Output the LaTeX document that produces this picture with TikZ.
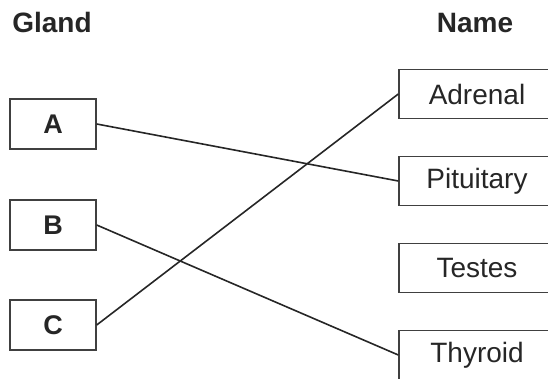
\documentclass[tikz,border=0pt]{standalone}
\usepackage{fontspec}
\setmainfont{Liberation Sans}
\begin{document}
\begin{tikzpicture}[x=1pt,y=-1pt,
  box/.style={draw=black!75,line width=1.4pt,inner sep=0pt,font=\fontsize{28}{30}\selectfont,text=black!85},
  lbox/.style={box,minimum width=86pt,minimum height=50pt,font=\bfseries\fontsize{27}{29}\selectfont},
  rbox/.style={box,minimum width=156pt,minimum height=49pt},
  head/.style={inner sep=0pt,font=\bfseries\fontsize{28}{30}\selectfont,text=black!85,anchor=base},
  link/.style={draw=black!85,line width=1.6pt}]
\useasboundingbox (0,0) rectangle (548,379);
\clip (0,0) rectangle (548,379);
\node[head] (gland) at (52,33) {Gland};
\node[head] (name) at (475,33) {Name};
\node[lbox] (A) at (53,124) {A};
\node[lbox] (B) at (53,225) {B};
\node[lbox] (C) at (53,325) {C};
\node[rbox] (adr) at (477,94) {Adrenal};
\node[rbox] (pit) at (477,181) {Pituitary};
\node[rbox] (tes) at (477,268) {Testes};
\node[rbox] (thy) at (477,355) {Thyroid};
\draw[link] (A.east) -- (pit.west);
\draw[link] (B.east) -- (thy.west);
\draw[link] (C.east) -- (adr.west);
\end{tikzpicture}
\end{document}
